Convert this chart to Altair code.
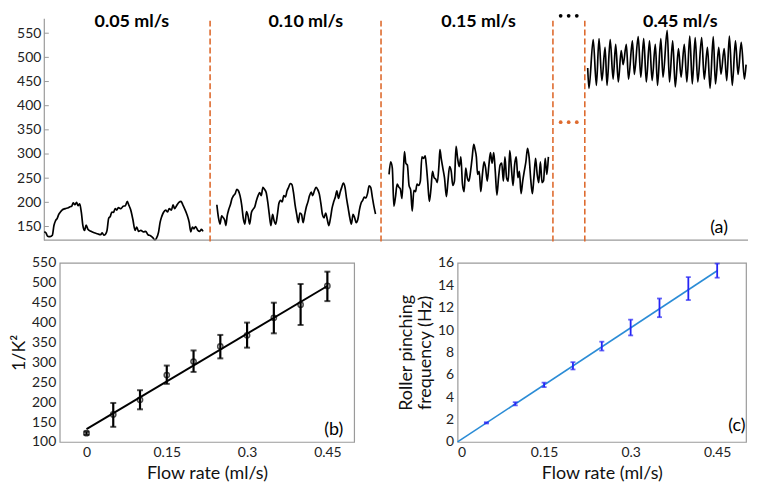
import altair as alt
import pandas as pd

FONT = "Lato"

# ---------------- panel (a): signal traces (time in arbitrary units) ----------------
seg1_t = [0.3, 2, 3.7, 6.3, 8.7, 10.3, 12, 13.7, 15.3, 17, 18.7, 22, 25.3, 27, 28.7, 30.3, 32, 33.7, 35.3, 37,
          38.7, 40.3, 42, 43.7, 45.3, 48.7, 52, 55.3, 58.7, 60.3, 62, 63.7, 65.3, 67, 68.7, 70.3, 72, 73.7, 75.3, 77,
          79.7, 82, 84.3, 86.3, 87.7, 89.7, 92, 94.3, 96, 98, 100.3, 103, 105.3, 107.7, 110.3, 112.7, 114.7, 116.3,
          118.7, 120.3, 122, 123.7, 126, 128, 129.7, 132, 133.7, 135.3, 137, 139.7, 142, 143.7, 146, 148, 150.3, 152,
          153.7, 155.3, 157, 159.3, 161.3, 163, 164.7]
seg1_v = [139, 137, 130, 129, 132, 152, 162, 167, 175, 180, 184, 187, 189, 191, 192, 199, 195, 200, 193, 197,
          179, 152, 142, 153, 145, 140, 137, 135, 133, 137, 132, 134, 142, 167, 171, 180, 179, 187, 184, 189,
          187, 192, 193, 202, 195, 185, 165, 142, 149, 140, 142, 139, 140, 133, 131, 127, 122, 125, 139, 159,
          171, 179, 184, 180, 187, 184, 195, 187, 192, 200, 202, 195, 185, 175, 159, 139, 149, 145, 150, 142,
          140, 144, 140]

seg2_t = [179, 180.7, 182.3, 184, 185.7, 187.3, 188.3, 189.7, 191.3, 193, 194.7, 196.3, 198, 199.7, 201.3, 203,
          204.7, 206.3, 208, 209.7, 211.3, 213, 214.7, 216.3, 218.3, 220, 221.7, 223.3, 225, 226.7, 228.3, 230,
          231.7, 233.3, 235, 236.7, 238.3, 240, 241.7, 243.3, 245, 246.7, 248.3, 250, 251.7, 253.3, 255, 256.7,
          258.3, 260, 261.7, 263.3, 265, 266.7, 268.3, 270, 271.7, 273.3, 275, 276.7, 278.3, 280, 281.7, 283.3,
          285, 286.7, 288.3, 290, 291.7, 293.3, 295, 296.7, 298.3, 300, 301.7, 303.3, 305, 306.7, 308.3, 310,
          311.7, 313.3, 315, 316.7, 318.3, 320, 321.7, 323.3, 325, 326.7, 328.3, 330, 331.7, 333.3, 335, 336.7,
          338.3, 340, 341.7, 343.3]
seg2_v = [195, 168, 155, 172, 168, 162, 152, 172, 185, 195, 208, 214, 218, 227, 224, 214, 195, 168, 155, 181,
          172, 155, 178, 185, 191, 204, 214, 220, 214, 231, 227, 221, 201, 175, 152, 175, 162, 155, 175, 198,
          204, 201, 214, 211, 224, 231, 239, 237, 221, 195, 175, 158, 178, 175, 158, 175, 191, 201, 214, 221,
          214, 224, 231, 227, 218, 198, 175, 168, 178, 165, 152, 168, 188, 201, 211, 224, 208, 221, 231, 240,
          231, 208, 188, 168, 155, 175, 168, 158, 165, 185, 198, 204, 211, 209, 218, 234, 231, 211, 191, 176]

seg3_t = [357.3, 359, 360.7, 362.3, 364, 365.7, 367.3, 369, 370.7, 372.3, 373.3, 374.7, 376.3, 378, 379.7, 381.3,
          383, 384.7, 386.3, 388, 389.7, 391.3, 393, 394.7, 395.7, 397.3, 399, 400.7, 402.3, 404, 405.7, 407.3,
          409, 410, 411.3, 413, 414.7, 416.7, 418.3, 420, 421.7, 423.3, 425, 426.7, 428.3, 430, 431.7, 433.3,
          435, 436.7, 438.3, 440, 441.7, 443.3, 445, 446.3, 447.7, 449, 450.7, 452.3, 454, 455.7, 457.3, 459,
          460.7, 462.3, 464, 465.7, 467.3, 469, 470.7, 472.3, 474, 475.7, 477.3, 479, 480.7, 482.3, 484, 485.7,
          487.3, 489, 490.7, 492.3, 494, 495.7, 497.3, 499, 500.7, 502.3, 504, 505.7, 507.3, 509, 510.7, 512.3,
          514, 515.7, 517.3, 519, 520.7, 522.3]
seg3_v = [258, 284, 271, 192, 212, 238, 232, 228, 208, 271, 305, 281, 277, 235, 225, 182, 225, 222, 238, 235,
          244, 294, 291, 296, 281, 244, 202, 228, 264, 251, 248, 241, 277, 309, 291, 271, 251, 212, 244, 274,
          264, 235, 244, 316, 291, 274, 294, 238, 222, 271, 251, 244, 264, 291, 320, 310, 294, 258, 264, 222,
          258, 284, 271, 244, 277, 303, 281, 303, 264, 215, 251, 277, 281, 244, 294, 251, 244, 307, 271, 235,
          277, 294, 251, 264, 218, 244, 264, 284, 312, 294, 248, 218, 251, 291, 258, 241, 284, 241, 245, 291,
          258, 294]

seg4_t = [563, 564.3, 568.7, 572, 574.7, 577.7, 581, 583, 586.3, 589.3, 592, 594.7, 597.7, 599.7, 603, 605.3,
          609.3, 611.3, 615.3, 618, 621, 623.7, 627, 629.7, 633, 635.3, 638.7, 641, 645.3, 647.7, 651, 653.7,
          657, 659.7, 663, 665.7, 668.7, 671.3, 674.3, 677, 681, 683.7, 687, 689.7, 693, 695.3, 698.7, 701,
          704.3, 707, 709.7, 712.7, 716, 718.7, 722, 725.3, 727]
seg4_v = [478, 436, 537, 442, 539, 452, 521, 442, 537, 455, 527, 449, 514, 485, 527, 455, 534, 465, 543, 459,
          539, 449, 534, 452, 527, 442, 539, 459, 556, 449, 534, 439, 518, 459, 527, 449, 544, 445, 541, 449,
          541, 455, 521, 436, 543, 445, 521, 465, 518, 452, 544, 442, 534, 465, 531, 455, 485]

sep_t = [172, 349, 527, 560]
seg_labels = ["0.05 ml/s", "0.10 ml/s", "0.15 ml/s", "0.45 ml/s"]
seg_label_t = [91, 271, 450, 659]
dots_t = [535, 543.3, 551.7]
y_ticks_a = [150, 200, 250, 300, 350, 400, 450, 500, 550]
T_START, T_END = 0, 729
V_MIN, V_MAX = 122, 581

# ---------------- panel (b) ----------------
flow_b = [0, 0.05, 0.10, 0.15, 0.20, 0.25, 0.30, 0.35, 0.40, 0.45]
invk2 = [122, 169, 206, 268, 302, 340, 368, 412, 445, 492]
invk2_lo = [118, 138, 182, 246, 276, 310, 337, 373, 394, 454]
invk2_hi = [126, 198, 230, 292, 330, 369, 400, 450, 497, 528]
fit_b_x = [0, 0.45]
fit_b_y = [132, 492]

# ---------------- panel (c) ----------------
flow_c = [0.05, 0.10, 0.15, 0.20, 0.25, 0.30, 0.35, 0.40, 0.45]
freq = [1.70, 3.41, 5.10, 6.79, 8.54, 10.1, 12.0, 13.7, 15.3]
freq_lo = [1.65, 3.27, 4.90, 6.48, 8.17, 9.52, 11.15, 12.68, 14.68]
freq_hi = [1.76, 3.55, 5.30, 7.13, 8.96, 10.93, 12.82, 14.73, 15.94]
fit_c_x = [0, 0.45]
fit_c_y = [0, 15.3]

ORANGE = "#DE6B2F"
GREY = "#9a9a9a"
LBL = 14
TTL = 18

# ======== build panel (a) ========
rows = []
for name, ts, vs in [("s1", seg1_t, seg1_v), ("s2", seg2_t, seg2_v), ("s3", seg3_t, seg3_v), ("s4", seg4_t, seg4_v)]:
    for t, v in zip(ts, vs):
        rows.append({"t": t, "v": v, "seg": name})
sig = pd.DataFrame(rows)

# plot area starts a bit right of t=0 so that it lines up with panel (b); the y axis is pushed left by offset
xs_a = alt.Scale(domain=[16.3, T_END], nice=False, zero=False)
ys_a = alt.Scale(domain=[V_MIN, V_MAX], nice=False, zero=False)

trace = alt.Chart(sig).mark_line(color="black", strokeWidth=1.7, interpolate="monotone").encode(
    x=alt.X("t:Q", scale=xs_a, axis=None),
    y=alt.Y("v:Q", scale=ys_a, axis=alt.Axis(title=None, values=y_ticks_a, tickCount=30, grid=False, ticks=False,
                                             domainColor=GREY, domainWidth=1.2, labelFontSize=LBL,
                                             labelFont=FONT, labelColor="#222", labelPadding=3,
                                             labelOverlap=False, offset=16)),
    detail="seg:N",
)

base_df = pd.DataFrame({"a": [T_START], "b": [T_END], "v": [V_MIN]})
baseline = alt.Chart(base_df).mark_rule(color=GREY, strokeWidth=1.2).encode(
    x=alt.X("a:Q", scale=xs_a), x2="b:Q", y=alt.Y("v:Q", scale=ys_a))

tick_df = pd.DataFrame({"a": [T_START] * len(y_ticks_a), "b": [5] * len(y_ticks_a), "v": y_ticks_a})
ticks_a = alt.Chart(tick_df).mark_rule(color=GREY, strokeWidth=1).encode(
    x=alt.X("a:Q", scale=xs_a), x2="b:Q", y=alt.Y("v:Q", scale=ys_a))

sep_df = pd.DataFrame({"t": sep_t, "top": [576] * 4, "bot": [113] * 4})
seps = alt.Chart(sep_df).mark_rule(color=ORANGE, strokeWidth=1.6, strokeDash=[6, 3]).encode(
    x=alt.X("t:Q", scale=xs_a), y=alt.Y("top:Q", scale=ys_a), y2="bot:Q")

lab_df = pd.DataFrame({"t": seg_label_t, "v": [573] * 4, "label": seg_labels})
labels = alt.Chart(lab_df).mark_text(font=FONT, fontSize=18, fontWeight="bold", color="black",
                                     baseline="middle", align="center").encode(
    x=alt.X("t:Q", scale=xs_a), y=alt.Y("v:Q", scale=ys_a), text="label:N")

dots_df = pd.DataFrame({"t": dots_t * 2, "v": [586] * 3 + [366] * 3, "c": ["k"] * 3 + ["o"] * 3})
dots = alt.Chart(dots_df).mark_circle(size=14, opacity=1).encode(
    x=alt.X("t:Q", scale=xs_a), y=alt.Y("v:Q", scale=ys_a),
    color=alt.Color("c:N", scale=alt.Scale(domain=["k", "o"], range=["black", ORANGE]), legend=None))

tag_a = alt.Chart(pd.DataFrame({"t": [699], "v": [146], "s": ["(a)"]})).mark_text(
    font=FONT, fontSize=18, color="black", align="center", baseline="middle").encode(
    x=alt.X("t:Q", scale=xs_a), y=alt.Y("v:Q", scale=ys_a), text="s:N")

panel_a = alt.layer(trace, baseline, ticks_a, seps, labels, dots, tag_a).properties(width=692, height=223)

# ======== panel (b) ========
bdf = pd.DataFrame({"x": flow_b, "y": invk2, "lo": invk2_lo, "hi": invk2_hi})
bfit = pd.DataFrame({"x": fit_b_x, "y": fit_b_y})
xs_b = alt.Scale(domain=[-0.05, 0.5], nice=False, zero=False)
ys_b = alt.Scale(domain=[100, 550], nice=False, zero=False)


def x_axis():
    return alt.Axis(title="Flow rate (ml/s)", values=[0, 0.15, 0.3, 0.45], format="~g", grid=False, ticks=False,
                    domain=False, labelFontSize=LBL, labelFont=FONT, labelColor="#222", titleFont=FONT,
                    titleFontSize=TTL, titleFontWeight="normal", titleColor="#111", labelPadding=4,
                    titlePadding=5, labelOverlap=False, tickCount=30)


y_axis_b = alt.Axis(title="1/K²", values=[100, 150, 200, 250, 300, 350, 400, 450, 500, 550], tickCount=30,
                    grid=False, ticks=False, domain=False, labelFontSize=LBL, labelFont=FONT, labelColor="#222",
                    titleFont=FONT, titleFontSize=TTL, titleFontWeight="normal", titleColor="#111",
                    labelPadding=4, titlePadding=3, labelOverlap=False)

fit_b = alt.Chart(bfit).mark_line(color="black", strokeWidth=2).encode(
    x=alt.X("x:Q", scale=xs_b, axis=x_axis()), y=alt.Y("y:Q", scale=ys_b, axis=y_axis_b))
err_b = alt.Chart(bdf).mark_rule(color="black", strokeWidth=2.2).encode(
    x=alt.X("x:Q", scale=xs_b), y=alt.Y("lo:Q", scale=ys_b), y2="hi:Q")
cap_b_lo = alt.Chart(bdf).mark_tick(color="black", orient="horizontal", size=6, thickness=2).encode(
    x=alt.X("x:Q", scale=xs_b), y=alt.Y("lo:Q", scale=ys_b))
cap_b_hi = alt.Chart(bdf).mark_tick(color="black", orient="horizontal", size=6, thickness=2).encode(
    x=alt.X("x:Q", scale=xs_b), y=alt.Y("hi:Q", scale=ys_b))
pts_b = alt.Chart(bdf).mark_point(shape="circle", filled=False, color="black", size=28, strokeWidth=1.5).encode(
    x=alt.X("x:Q", scale=xs_b), y=alt.Y("y:Q", scale=ys_b))
tag_b = alt.Chart(pd.DataFrame({"x": [0.462], "y": [130], "s": ["(b)"]})).mark_text(
    font=FONT, fontSize=18, color="black", align="center", baseline="middle").encode(
    x=alt.X("x:Q", scale=xs_b), y=alt.Y("y:Q", scale=ys_b), text="s:N")

panel_b = alt.layer(fit_b, err_b, cap_b_lo, cap_b_hi, pts_b, tag_b).properties(
    width=296, height=180, view=alt.ViewBackground(stroke=GREY, strokeWidth=1.2))

# ======== panel (c) ========
cdf = pd.DataFrame({"x": flow_c, "y": freq, "lo": freq_lo, "hi": freq_hi})
cfit = pd.DataFrame({"x": fit_c_x, "y": fit_c_y})
xs_c = alt.Scale(domain=[0, 0.5], nice=False, zero=False)
ys_c = alt.Scale(domain=[0, 16], nice=False, zero=False)
y_axis_c = alt.Axis(title=["Roller pinching", "frequency (Hz)"], values=list(range(0, 17, 2)), tickCount=30,
                    format="d", grid=False, ticks=False, domain=False, labelFontSize=LBL, labelFont=FONT,
                    labelColor="#222", titleFont=FONT, titleFontSize=TTL, titleFontWeight="normal",
                    titleColor="#111", labelPadding=4, titlePadding=3, titleLineHeight=19, labelOverlap=False)

fit_c = alt.Chart(cfit).mark_line(color="#2B8CD6", strokeWidth=1.6).encode(
    x=alt.X("x:Q", scale=xs_c, axis=x_axis()), y=alt.Y("y:Q", scale=ys_c, axis=y_axis_c))
BLUE = "#2525F5"
err_c = alt.Chart(cdf).mark_rule(color=BLUE, strokeWidth=1.8).encode(
    x=alt.X("x:Q", scale=xs_c), y=alt.Y("lo:Q", scale=ys_c), y2="hi:Q")
cap_c_lo = alt.Chart(cdf).mark_tick(color=BLUE, orient="horizontal", size=5, thickness=1.8).encode(
    x=alt.X("x:Q", scale=xs_c), y=alt.Y("lo:Q", scale=ys_c))
cap_c_hi = alt.Chart(cdf).mark_tick(color=BLUE, orient="horizontal", size=5, thickness=1.8).encode(
    x=alt.X("x:Q", scale=xs_c), y=alt.Y("hi:Q", scale=ys_c))
tag_c = alt.Chart(pd.DataFrame({"x": [0.484], "y": [1.4], "s": ["(c)"]})).mark_text(
    font=FONT, fontSize=18, color="black", align="center", baseline="middle").encode(
    x=alt.X("x:Q", scale=xs_c), y=alt.Y("y:Q", scale=ys_c), text="s:N")

panel_c = alt.layer(fit_c, err_c, cap_c_lo, cap_c_hi, tag_c).properties(
    width=290, height=180, view=alt.ViewBackground(stroke=GREY, strokeWidth=1.2))

bottom = alt.hconcat(panel_b, panel_c, spacing=42)
chart = alt.concat(panel_a, bottom, columns=1, align="none", spacing=9).properties(
    padding={"left": 2, "top": 3, "right": 0, "bottom": 0}).configure_view(stroke=None)

chart.save("out.html", embed_options={"renderer": "svg", "actions": False})
